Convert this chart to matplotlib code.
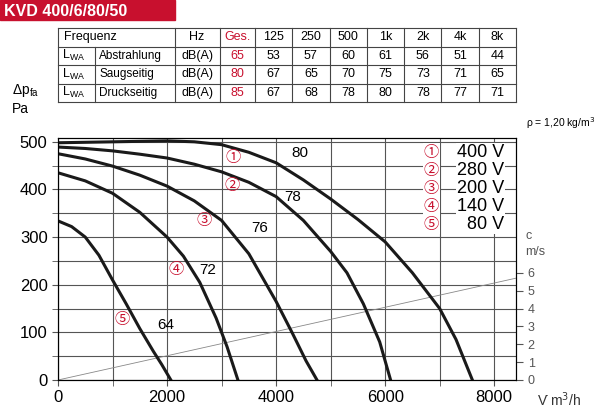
import numpy as np
import matplotlib
matplotlib.use('Agg')
import matplotlib.pyplot as plt

plt.rcParams['font.family'] = ['Liberation Sans', 'DejaVu Sans']

# curve data: volume flow m3/h -> pressure Pa
curves = {
    "80": ([0, 500, 1000, 1500, 2000, 2500, 3000, 3500, 4000, 4500, 5000, 5500, 6000, 6500, 7000, 7300, 7600],
           [498, 499, 500, 501, 502, 500, 494, 478, 456, 420, 380, 337, 290, 225, 150, 85, 0]),
    "78": ([0, 500, 1000, 1500, 2000, 2500, 3000, 3500, 4000, 4500, 5000, 5300, 5600, 5900, 6100],
           [489, 486, 481, 474, 466, 453, 437, 415, 385, 335, 270, 225, 160, 80, 0]),
    "76": ([0, 500, 1000, 1500, 2000, 2500, 3000, 3500, 4000, 4300, 4550, 4750],
           [475, 464, 449, 430, 407, 376, 335, 265, 165, 98, 40, 0]),
    "72": ([0, 500, 1000, 1500, 2000, 2300, 2600, 2900, 3100, 3300],
           [435, 418, 392, 352, 300, 260, 205, 130, 70, 0]),
    "64": ([0, 250, 500, 750, 1000, 1250, 1500, 1750, 1900, 2070],
           [334, 322, 300, 262, 210, 160, 108, 60, 33, 0]),
}
curve_label_pos = {"80": (4430, 477), "78": (4300, 384), "76": (3700, 319),
                   "72": (2750, 231), "64": (1980, 116)}
circle_marks = ["①", "②", "③", "④", "⑤"]
circle_pos = [(3220, 468), (3190, 408), (2680, 334), (2160, 231), (1170, 126)]
voltages = ["400 V", "280 V", "200 V", "140 V", "80 V"]

# velocity line c = k * V
c_flow = [0, 8400]
c_vel = [0, 5.7]
pa_per_ms = 37.5

# sound table
freq_cols = ["Ges.", "125", "250", "500", "1k", "2k", "4k", "8k"]
row_names = ["Abstrahlung", "Saugseitig", "Druckseitig"]
row_vals = [[65, 53, 57, 60, 61, 56, 51, 44],
            [80, 67, 65, 70, 75, 73, 71, 65],
            [85, 67, 68, 78, 80, 78, 77, 71]]

red = '#c8102e'
circ_font = ['Noto Sans CJK JP', 'DejaVu Sans']
fig = plt.figure(figsize=(6, 4.08), dpi=100)

# overlay in pixel coords for title and table
ov = fig.add_axes([0, 0, 1, 1])
ov.set_xlim(0, 600)
ov.set_ylim(408, 0)
ov.axis('off')
ov.add_patch(plt.Rectangle((0, 0), 175, 20, color=red))
ov.text(4, 11, "KVD 400/6/80/50", color='white', fontsize=11.5, va='center',
        fontweight='bold')

xs = [58, 175, 220, 255] + [255 + 261 / 7 * (i + 1) for i in range(7)]
ys = [28, 46.5, 65, 83.5, 102]
for y in ys:
    ov.plot([58, 516], [y, y], color='#444', lw=0.8)
for x in xs:
    ov.plot([x, x], [28, 102], color='#444', lw=0.8)
ov.plot([95, 95], [46.5, 102], color='#444', lw=0.8)
tf = dict(fontsize=9, va='center')
ov.text(64, 37, "Frequenz", **tf)
ov.text(197, 37, "Hz", ha='center', **tf)
for i, f in enumerate(freq_cols):
    ov.text((xs[i + 2] + xs[i + 3]) / 2, 37, f, ha='center',
            color=red if i == 0 else 'black', **tf)
for r, name in enumerate(row_names):
    yc = (ys[r + 1] + ys[r + 2]) / 2
    ov.text(62, yc, "L$_{\\mathregular{WA}}$", **tf)
    ov.text(99, yc, name, fontsize=8.5, va='center')
    ov.text(197, yc, "dB(A)", ha='center', **tf)
    for i, v in enumerate(row_vals[r]):
        ov.text((xs[i + 2] + xs[i + 3]) / 2, yc, str(v), ha='center',
                color=red if i == 0 else 'black', **tf)

ax = fig.add_axes([58 / 600, 28 / 408, 458 / 600, 242 / 408])
ax.set_xlim(0, 8400)
ax.set_ylim(0, 508)
ax.set_xticks(range(0, 8001, 1000), minor=True)
ax.set_xticks(range(0, 8001, 2000))
ax.set_yticks(np.arange(0, 501, 50), minor=True)
ax.set_yticks(range(0, 501, 100))
ax.grid(which='both', color='#555', lw=0.8)
ax.tick_params(which='both', length=4, labelsize=12, color='#555')
ax.plot(c_flow, [v * pa_per_ms for v in c_vel], color='#888', lw=0.6)
for name, (q, p) in curves.items():
    ax.plot(q, p, color='#1a1a1a', lw=2.2, solid_joinstyle='round')
    ax.text(*curve_label_pos[name], name, fontsize=11, ha='center', va='center')
for m, (x, y) in zip(circle_marks, circle_pos):
    ax.text(x, y, m, color=red, fontsize=11, ha='center', va='center',
            family=circ_font)
for i, (m, v) in enumerate(zip(circle_marks, voltages)):
    y = 478 - i * 38
    ax.text(6850, y, m, color=red, fontsize=11, ha='center', va='center',
            family=circ_font, bbox=dict(fc='white', ec='none', pad=0.5))
    ax.text(8180, y, v, fontsize=13, ha='right', va='center',
            bbox=dict(fc='white', ec='none', pad=0.5))

ax2 = ax.twinx()
ax2.set_ylim(0, 508 / pa_per_ms)
ax2.set_yticks(range(0, 7))
ax2.tick_params(labelsize=9, colors='#555', length=5)
ax2.text(1.02, 7.6 / (508 / pa_per_ms), "c\nm/s", transform=ax2.transAxes,
         fontsize=9, color='#555', va='center', linespacing=1.4)

ov.text(12, 94, "Δp$_{\\mathregular{fa}}$", fontsize=10)
ov.text(12, 113, "Pa", fontsize=10)
ov.text(526, 127, "ρ = 1,20 kg/m$^3$", fontsize=7.5)
ov.text(537, 400, "V̇ m$^3$/h", fontsize=10, color='#333', va='center')

fig.savefig('out.png', dpi=100)
